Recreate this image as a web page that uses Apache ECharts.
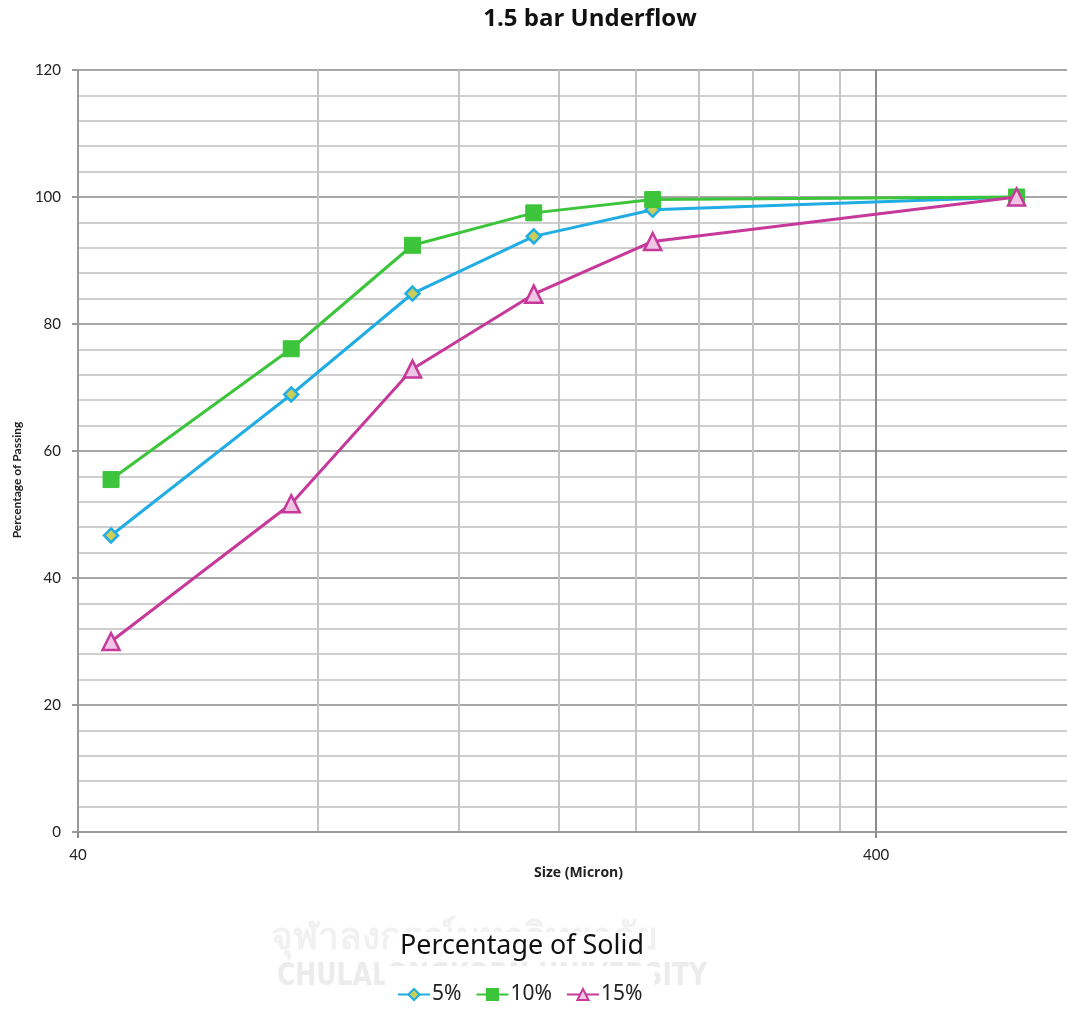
<!DOCTYPE html>
<html>
<head>
<meta charset="utf-8">
<title>1.5 bar Underflow</title>
<script src="https://cdn.jsdelivr.net/npm/echarts@6/dist/echarts.min.js"></script>
<style>
  html, body { margin: 0; padding: 0; background: #ffffff; }
  #chart { width: 1067px; height: 1011px; }
</style>
</head>
<body>
<div id="chart"></div>
<script>
// Particle size (micron) of each sieve fraction
const sizes = [44, 74, 105, 149, 210, 600];
// Cumulative percentage passing for each solid concentration
const passing5 = [46.7, 68.9, 84.8, 93.8, 98.0, 100];
const passing10 = [55.5, 76.1, 92.4, 97.5, 99.6, 100];
const passing15 = [30.0, 51.7, 72.9, 84.7, 93.0, 100];
const seriesNames = ['5%', '10%', '15%'];
// Vertical grid positions on the log size axis
const sizeGrid = [40, 80, 120, 160, 200, 240, 280, 320, 360, 400];
const sizeLabels = [40, 400];

const pair = (vals) => sizes.map((s, i) => [s, vals[i]]);

const font = 'Lato, "Open Sans", sans-serif';
const chart = echarts.init(document.getElementById('chart'), null, { renderer: 'canvas' });

chart.setOption({
  backgroundColor: '#ffffff',
  animation: false,
  title: {
    text: '1.5 bar Underflow',
    left: 585, top: 2, textAlign: 'center',
    textStyle: { fontFamily: '"Open Sans", sans-serif', fontSize: 24, fontWeight: 'bold', color: '#111' }
  },
  graphic: [
    // faint university watermark behind the legend
    {
      type: 'text', x: 464, y: 938, z: -10, silent: true,
      style: { text: 'จุฬาลงกรณ์มหาวิทยาลัย', font: 'bold 37px "Noto Sans", sans-serif', fill: '#f1f1f1', align: 'center', verticalAlign: 'middle' }
    },
    {
      type: 'text', x: 492, y: 977, z: -10, silent: true, scaleX: 0.87,
      style: { text: 'CHULALONGKORN UNIVERSITY', font: 'bold 32px "DejaVu Sans Condensed", sans-serif', fill: '#ececec', align: 'center', verticalAlign: 'middle' }
    },
    {
      type: 'text', x: 522, y: 946, z: 5, scaleX: 0.96,
      style: {
        text: 'Percentage of Solid', font: '28px "Noto Sans", sans-serif', fill: '#111',
        align: 'center', verticalAlign: 'middle', backgroundColor: '#ffffff', padding: [0, 4, 0, 4]
      }
    },
    {
      type: 'text', x: 17, y: 480, rotation: Math.PI / 2, z: 5,
      style: { text: 'Percentage of Passing', font: 'bold 12px Lato, sans-serif', fill: '#222', align: 'center', verticalAlign: 'middle' }
    }
  ],
  legend: {
    bottom: 0, left: 385,
    itemWidth: 32, itemHeight: 14, itemGap: 14,
    backgroundColor: '#ffffff', padding: [18, 12, 6, 12],
    textStyle: { fontFamily: '"Noto Sans", sans-serif', fontSize: 21, color: '#222', padding: [0, 0, 0, -3] },
    data: seriesNames
  },
  grid: { left: 78, right: 0, top: 70, bottom: 179, containLabel: false },
  xAxis: [
    {
      type: 'log', logBase: 10, min: 40, max: 694,
      name: 'Size (Micron)', nameLocation: 'middle', nameGap: 34,
      nameTextStyle: { fontFamily: '"Open Sans", sans-serif', fontSize: 14, fontWeight: 'bold', color: '#222', padding: [0, 0, 0, 12] },
      axisLine: { show: true, lineStyle: { color: '#9a9a9a', width: 2 } },
      axisTick: { show: false, customValues: sizeGrid },
      axisLabel: { show: false },
      splitLine: {
        show: true,
        lineStyle: {
          color: ['#c4c4c4', '#c4c4c4', '#c4c4c4', '#c4c4c4', '#c4c4c4', '#c4c4c4', '#c4c4c4', '#c4c4c4', '#c4c4c4', '#8c8c8c'],
          width: 2
        }
      }
    },
    {
      type: 'log', logBase: 10, min: 40, max: 694, position: 'bottom',
      axisLine: { show: false },
      axisTick: { show: true, customValues: sizeLabels, length: 6, lineStyle: { color: '#8c8c8c', width: 2 } },
      axisLabel: { show: true, customValues: sizeLabels, margin: 16, fontFamily: font, fontSize: 15, color: '#222' },
      splitLine: { show: false }
    }
  ],
  yAxis: {
    type: 'value', min: 0, max: 120, interval: 20,
    axisLine: { show: true, lineStyle: { color: '#9a9a9a', width: 2 } },
    axisTick: { show: true, length: 6, lineStyle: { color: '#9a9a9a', width: 2 } },
    axisLabel: { margin: 17, fontFamily: font, fontSize: 15, color: '#222' },
    splitLine: { show: true, lineStyle: { color: '#a6a6a6', width: 2 } },
    minorTick: { show: false, splitNumber: 5 },
    minorSplitLine: { show: true, lineStyle: { color: '#cfcfcf', width: 2 } }
  },
  series: [
    {
      name: seriesNames[0], type: 'line', data: pair(passing5), z: 3,
      symbol: 'diamond', symbolSize: 14,
      lineStyle: { color: '#1fade3', width: 3 },
      itemStyle: { color: '#c9cf5a', borderColor: '#1fade3', borderWidth: 2.5 }
    },
    {
      name: seriesNames[1], type: 'line', data: pair(passing10), z: 4,
      symbol: 'rect', symbolSize: 16,
      lineStyle: { color: '#3cc43a', width: 3 },
      itemStyle: { color: '#3cc43a', borderColor: '#3cc43a', borderWidth: 1 }
    },
    {
      name: seriesNames[2], type: 'line', data: pair(passing15), z: 5,
      symbol: 'triangle', symbolSize: 17,
      lineStyle: { color: '#c6399a', width: 3 },
      itemStyle: { color: '#f0c4e4', borderColor: '#c6399a', borderWidth: 2.5 }
    }
  ]
});
</script>
</body>
</html>
